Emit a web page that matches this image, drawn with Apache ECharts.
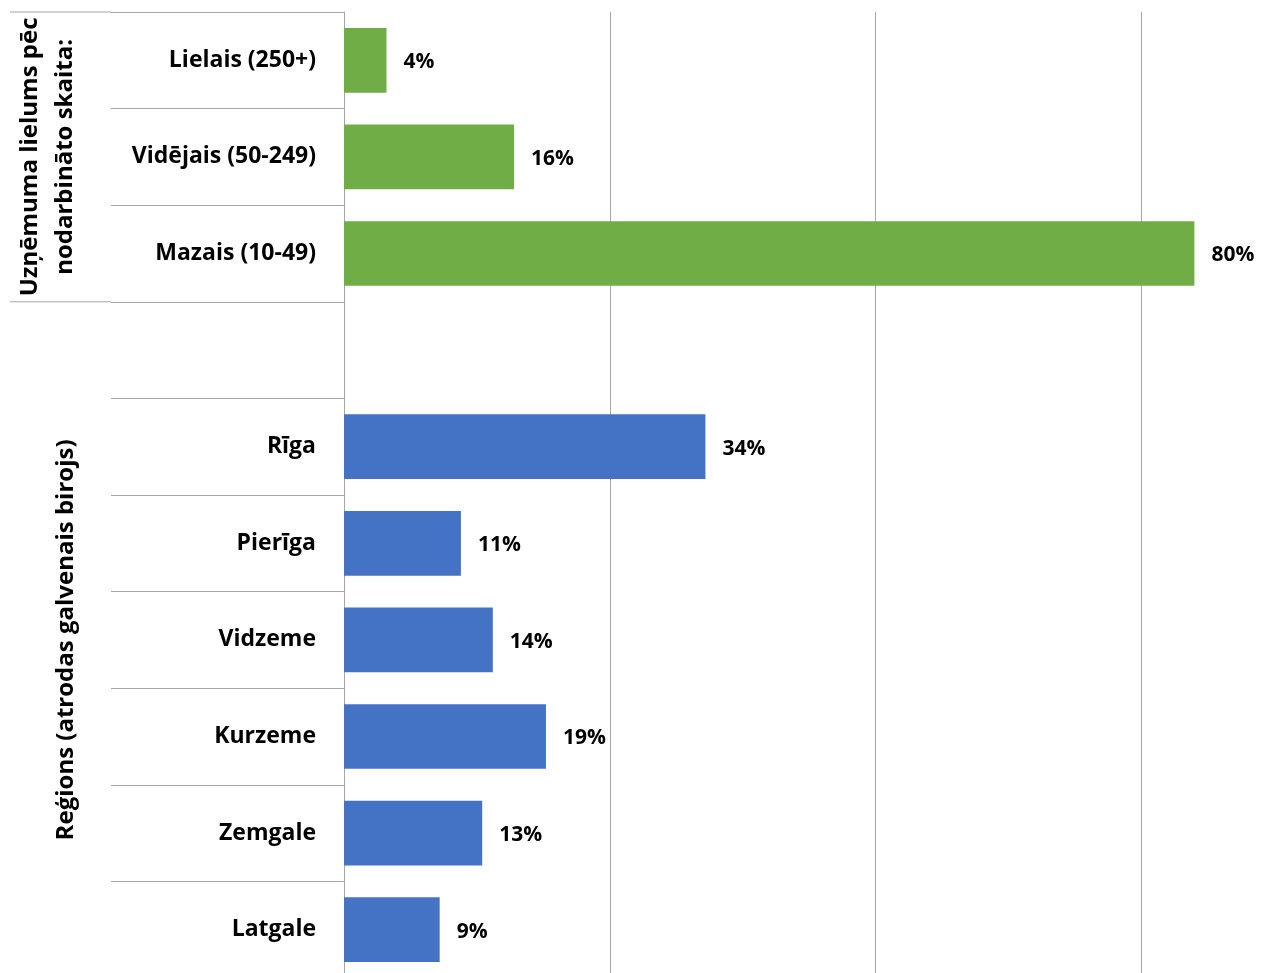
<!DOCTYPE html>
<html>
<head>
<meta charset="utf-8">
<script src="https://cdn.jsdelivr.net/npm/echarts@6/dist/echarts.min.js"></script>
<style>
  html, body { margin: 0; padding: 0; background: #fff; overflow: hidden; }
  /* the view shows the left part of a wider plot that runs to 100 % */
  #frame { position: relative; width: 1261px; height: 973px; overflow: hidden; }
  #chart { position: absolute; left: 0; top: 0; width: 1407px; height: 978px; }
</style>
</head>
<body>
<div id="frame"><div id="chart"></div></div>
<script>
// Company size groups (by number of employees), shares in %
const sizeCategories = ['Lielais (250+)', 'Vidējais (50-249)', 'Mazais (10-49)'];
const sizeValues = [4, 16, 80];
// Regions where the head office is located, shares in %
const regionCategories = ['Rīga', 'Pierīga', 'Vidzeme', 'Kurzeme', 'Zemgale', 'Latgale'];
const regionValues = [34, 11, 14, 19, 13, 9];
// Group titles for the two blocks of the category axis
const sizeGroupTitle = 'Uzņēmuma lielums pēc\nnodarbināto skaita:';
const regionGroupTitle = 'Reģions (atrodas galvenais birojs)';

const GREEN = '#70ad47';
const BLUE = '#4472c4';
const LINE = '#a6a6a6';
const FONT = '"Open Sans", sans-serif';

// one blank slot separates the two groups; it belongs to the region block
const categories = [...sizeCategories, '', ...regionCategories];
const seriesData = [
  ...sizeValues.map(v => ({ value: v, itemStyle: { color: GREEN } })),
  '-',
  ...regionValues.map(v => ({ value: v, itemStyle: { color: BLUE } }))
];

const chart = echarts.init(document.getElementById('chart'), null, { renderer: 'canvas' });

chart.setOption({
  animation: false,
  grid: { left: 344, top: 12, right: 0, bottom: 0, containLabel: false },
  xAxis: {
    type: 'value',
    min: 0, max: 100, interval: 25,
    axisLine: { show: false },
    axisTick: { show: false },
    axisLabel: { show: false },
    splitLine: { show: true, lineStyle: { color: LINE, width: 1 } }
  },
  yAxis: {
    type: 'category',
    inverse: true,
    data: categories,
    axisLine: { show: true, lineStyle: { color: LINE, width: 1 } },
    axisTick: { show: true, length: 233, lineStyle: { color: LINE, width: 1 } },
    axisLabel: {
      margin: 28, color: '#000', fontSize: 23, fontWeight: 'bold', fontFamily: FONT,
      padding: [4, 0, 0, 0]
    }
  },
  series: [{
    type: 'bar',
    data: seriesData,
    barCategoryGap: '33%',
    label: {
      show: true, position: 'right', distance: 17, offset: [0, 2],
      formatter: '{c}%', color: '#000', fontSize: 21, fontWeight: 'bold', fontFamily: FONT
    }
  }]
});

// Group separators and titles placed from the category axis scale
function yAt(idx) { return chart.convertToPixel({ yAxisIndex: 0 }, idx); }
const band = yAt(1) - yAt(0);
const boundary = i => yAt(i) - band / 2;           // upper edge of category i
const topEdge = boundary(0);
const splitEdge = boundary(sizeCategories.length);  // between the two blocks
const bottomEdge = boundary(categories.length);
const tickStartX = 344 - 233;

chart.setOption({
  graphic: [
    { type: 'line', shape: { x1: 10, y1: topEdge, x2: tickStartX, y2: topEdge },
      style: { stroke: LINE, lineWidth: 1 }, silent: true },
    { type: 'line', shape: { x1: 10, y1: splitEdge, x2: tickStartX, y2: splitEdge },
      style: { stroke: LINE, lineWidth: 1 }, silent: true },
    { type: 'text', x: 48, y: (topEdge + splitEdge) / 2, rotation: Math.PI / 2,
      style: { text: sizeGroupTitle, font: 'bold 24px ' + FONT, fill: '#000',
        align: 'center', verticalAlign: 'middle', lineHeight: 35 } },
    { type: 'text', x: 66, y: (splitEdge + bottomEdge) / 2, rotation: Math.PI / 2,
      style: { text: regionGroupTitle, font: 'bold 24px ' + FONT, fill: '#000',
        align: 'center', verticalAlign: 'middle' } }
  ]
});
</script>
</body>
</html>
